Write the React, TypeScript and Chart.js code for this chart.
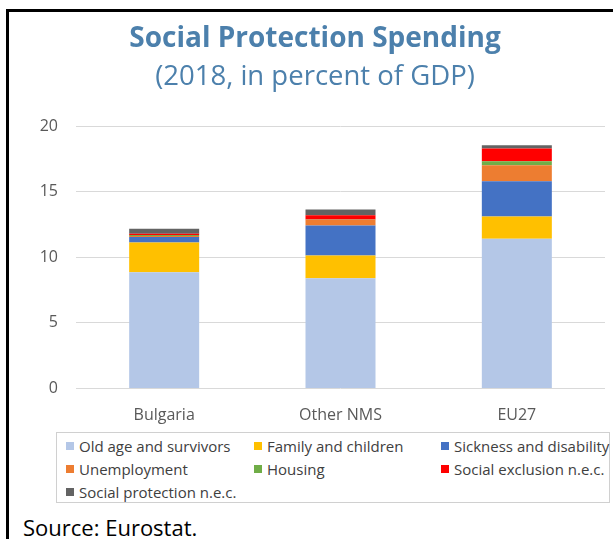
import React, { useEffect, useRef } from "react";
import { Chart, registerables } from "chart.js";

Chart.register(...registerables);

const categories = ["Bulgaria", "Other NMS", "EU27"];
const oldAge = [8.87, 8.41, 11.41];
const family = [2.26, 1.73, 1.7];
const sickness = [0.41, 2.29, 2.68];
const unemployment = [0.08, 0.43, 1.22];
const housing = [0.08, 0.03, 0.31];
const socialExclusion = [0.09, 0.31, 0.97];
const socialProtection = [0.39, 0.44, 0.25];
const yTicks = [0, 5, 10, 15, 20];

const seriesNames = [
  "Old age and survivors",
  "Family and children",
  "Sickness and disability",
  "Unemployment",
  "Housing",
  "Social exclusion n.e.c.",
  "Social protection n.e.c.",
];
const seriesValues = [oldAge, family, sickness, unemployment, housing, socialExclusion, socialProtection];
const seriesColors = ["#B4C7E7", "#FFC000", "#4472C4", "#ED7D31", "#70AD47", "#FF0000", "#636363"];

const FONT = "'Open Sans', 'Noto Sans', sans-serif";
const TITLE_COLOR = "#4C80AC";

// legend grid placement (column, row)
const legendSlots = [
  [0, 0], [1, 0], [2, 0],
  [0, 1], [1, 1], [2, 1],
  [0, 2],
];
const legendColLeft = [9, 197, 384];
const legendRowTop = [13, 36, 59];

export default function App() {
  const canvasRef = useRef<HTMLCanvasElement | null>(null);

  useEffect(() => {
    if (!canvasRef.current) return;
    const chart = new Chart(canvasRef.current, {
      type: "bar",
      data: {
        labels: categories,
        datasets: seriesNames.map((name, i) => ({
          label: name,
          data: seriesValues[i],
          backgroundColor: seriesColors[i],
          borderWidth: 0,
          categoryPercentage: 1,
          barPercentage: 0.397,
        })),
      },
      options: {
        animation: false,
        responsive: false,
        maintainAspectRatio: false,
        layout: { padding: { left: 25, right: 8, top: 0, bottom: 0 } },
        plugins: {
          legend: { display: false },
          tooltip: { enabled: false },
          title: {
            display: true,
            text: "Social Protection Spending",
            color: TITLE_COLOR,
            font: { family: FONT, size: 28, weight: "bold" },
            padding: { top: 22, bottom: 0 },
          },
          subtitle: {
            display: true,
            text: "(2018, in percent of GDP)",
            color: TITLE_COLOR,
            font: { family: FONT, size: 27.5, weight: "normal" },
            padding: { top: 5, bottom: 32.5 },
          },
        },
        scales: {
          x: {
            stacked: true,
            grid: { display: false, drawTicks: false },
            border: { display: false },
            ticks: { color: "#595959", font: { family: FONT, size: 16 }, padding: 17 },
            afterFit: (scale: any) => {
              scale.height = 41.5;
            },
          },
          y: {
            stacked: true,
            min: 0,
            max: 20,
            afterBuildTicks: (scale: any) => {
              scale.ticks = yTicks.map((v) => ({ value: v }));
            },
            grid: { color: "#D9D9D9", drawTicks: false, lineWidth: 1 },
            border: { display: false },
            ticks: { color: "#595959", font: { family: FONT, size: 16 }, padding: 18 },
            afterFit: (scale: any) => {
              scale.width = 51;
            },
          },
        },
      },
    });
    return () => chart.destroy();
  }, []);

  return (
    <div
      style={{
        position: "fixed",
        left: 0,
        top: 0,
        width: 613,
        height: 539,
        overflow: "hidden",
        background: "#fff",
        fontFamily: FONT,
      }}
    >
      <div
        style={{
          position: "absolute",
          left: 6,
          top: 9,
          width: 800,
          height: 800,
          borderLeft: "3px solid #000",
          borderTop: "3px solid #000",
        }}
      />
      <canvas
        ref={canvasRef}
        width={613}
        height={430}
        style={{ position: "absolute", left: 0, top: 0, width: 613, height: 430 }}
      />
      <div
        style={{
          position: "absolute",
          left: 56,
          top: 432,
          width: 554,
          height: 71,
          boxSizing: "border-box",
          border: "1px solid #D0D0D0",
          background: "#fff",
        }}
      >
        {seriesNames.map((name, i) => {
          const [c, r] = legendSlots[i];
          return (
            <div
              key={name}
              style={{
                position: "absolute",
                left: legendColLeft[c],
                top: legendRowTop[r] - 11,
                height: 22,
                display: "flex",
                alignItems: "center",
                whiteSpace: "nowrap",
                fontSize: 15,
                color: "#404040",
              }}
            >
              <span
                style={{
                  display: "inline-block",
                  width: 8,
                  height: 8,
                  background: seriesColors[i],
                  marginRight: 5,
                }}
              />
              <span>{name}</span>
            </div>
          );
        })}
      </div>
      <div
        style={{
          position: "absolute",
          left: 23,
          top: 514,
          fontSize: 22,
          lineHeight: "26px",
          color: "#000",
          whiteSpace: "nowrap",
        }}
      >
        Source: Eurostat.
      </div>
    </div>
  );
}
